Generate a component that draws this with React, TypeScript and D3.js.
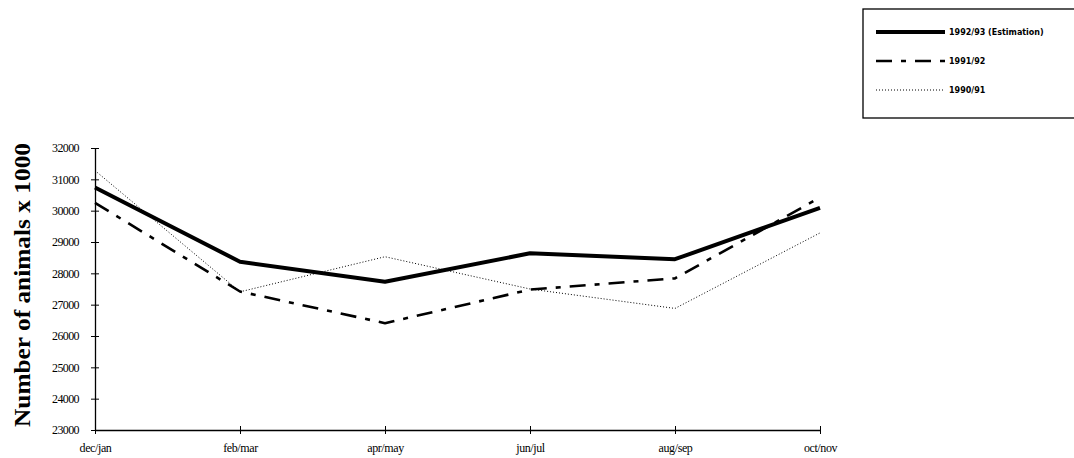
import * as d3 from "d3";
import React, { useRef, useEffect } from 'react'

const categories = ["dec/jan", "feb/mar", "apr/may", "jun/jul", "aug/sep", "oct/nov"]
const est9293 = [30740, 28370, 27730, 28640, 28450, 30090]
const val9192 = [30250, 27420, 26410, 27480, 27840, 30420]
const val9091 = [31280, 27410, 28530, 27500, 26880, 29290]
const yTicks = [23000, 24000, 25000, 26000, 27000, 28000, 29000, 30000, 31000, 32000]

const series = [
  { name: "1992/93 (Estimation)", values: est9293, width: 4, dash: "none" },
  { name: "1991/92", values: val9192, width: 2.6, dash: "16,9,5,9" },
  { name: "1990/91", values: val9091, width: 1, dash: "1,2" },
]

const W = 1074, H = 458
const ml = 95, mr = 820, mt = 148, mb = 430

const App: React.FC = () => {
  const gx = useRef(null)
  const gy = useRef(null)

  const x = d3.scalePoint(categories, [ml, mr])
  const y = d3.scaleLinear([23000, 32000], [mb, mt])

  useEffect(() => {
    if (gx.current) {
      const g = d3.select(gx.current as SVGGElement)
      g.call(d3.axisBottom(x).tickSizeInner(5).tickSizeOuter(0).tickPadding(8))
      g.selectAll(".tick line").attr("y1", -4).attr("y2", 4)
      g.selectAll("text").attr("font-family", "'Liberation Serif', serif").attr("font-size", 12).attr("fill", "#000").attr("letter-spacing", -0.4)
      g.select(".domain").attr("stroke-width", 1.3)
    }
  }, [gx, x])
  useEffect(() => {
    if (gy.current) {
      const g = d3.select(gy.current as SVGGElement)
      g.call(d3.axisLeft(y).tickValues(yTicks).tickFormat(d3.format("d")).tickSizeOuter(0).tickPadding(10))
      g.selectAll(".tick line").attr("x1", -4).attr("x2", 4)
      g.selectAll("text").attr("font-family", "'Liberation Serif', serif").attr("font-size", 12).attr("fill", "#000").attr("letter-spacing", -0.6)
      g.select(".domain").attr("stroke-width", 1.3)
    }
  }, [gy, y])

  const line = d3.line<number>().x((_, i) => x(categories[i]) as number).y(d => y(d))

  return (
    <svg width={W} height={H} style={{ position: "absolute", left: 0, top: 0 }}>
      <rect width={W} height={H} fill="#fff" />
      <g ref={gx} transform={`translate(0, ${mb})`} />
      <g ref={gy} transform={`translate(${ml}, 0)`} />
      {series.map(s => (
        <path key={s.name} d={line(s.values) || ""} fill="none" stroke="#000" strokeWidth={s.width}
          strokeDasharray={s.dash} strokeLinejoin="round" />
      ))}
      <text transform={`translate(30, 285) rotate(-90)`} textAnchor="middle"
        fontFamily="'Liberation Serif', serif" fontWeight="bold" fontSize={23}
        textLength={284} lengthAdjust="spacingAndGlyphs">Number of animals x 1000</text>
      <rect x={863} y={9} width={215} height={109} fill="none" stroke="#000" strokeWidth={1.3} />
      {series.map((s, i) => (
        <g key={"lg" + s.name} transform={`translate(0, ${32 + i * 29})`}>
          <line x1={876} x2={945} y1={0} y2={0} stroke="#000" strokeWidth={s.width} strokeDasharray={s.dash} />
          <text x={949} y={3} fontFamily="'DejaVu Sans', sans-serif" fontWeight="bold" fontSize={8}>{s.name}</text>
        </g>
      ))}
    </svg>
  )
}

export default App
